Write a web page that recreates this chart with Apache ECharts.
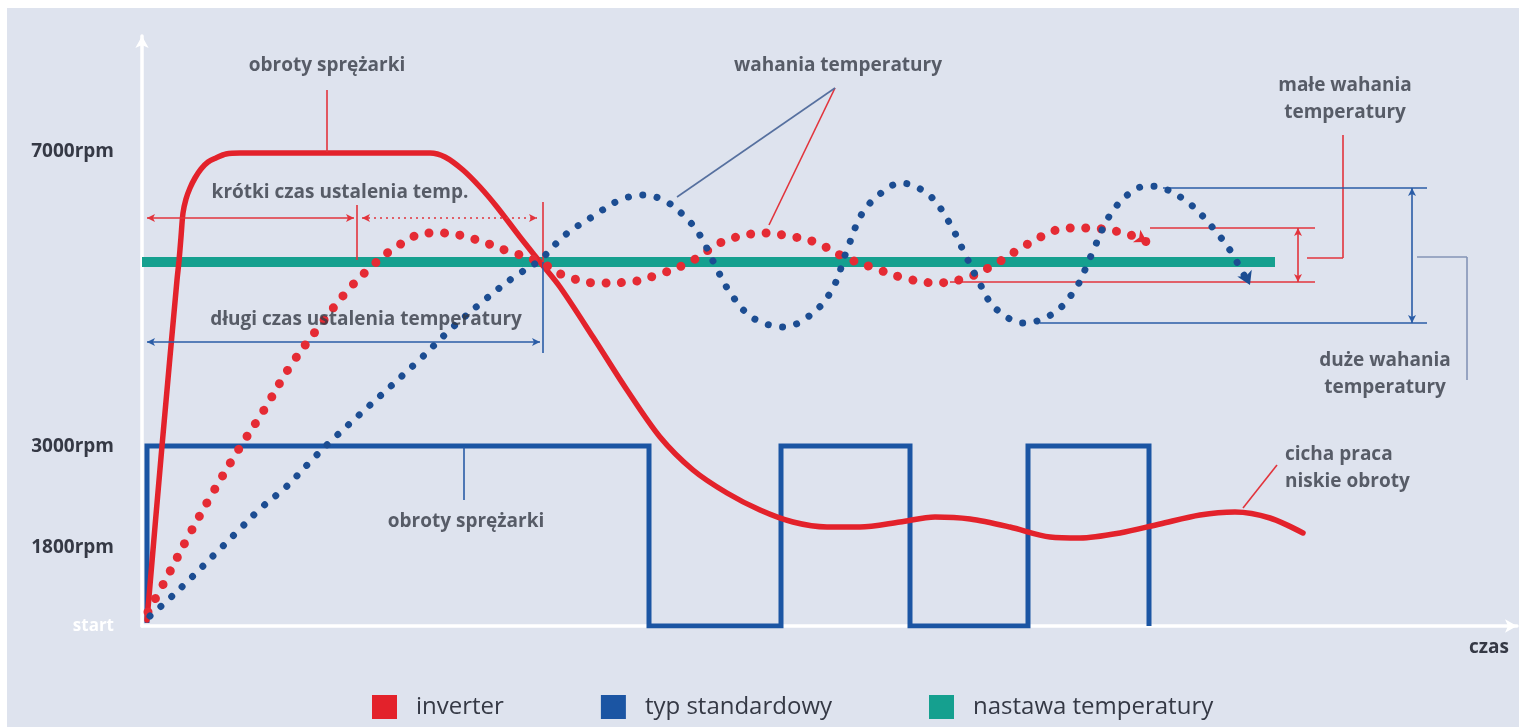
<!DOCTYPE html>
<html>
<head>
<meta charset="utf-8">
<title>Inverter vs standard compressor</title>
<script src="https://cdn.jsdelivr.net/npm/echarts@6/dist/echarts.min.js"></script>
<style>
  html, body { margin: 0; padding: 0; background: #ffffff; }
  #chart { position: absolute; left: 7px; top: 8px; width: 1512px; height: 719px; }
</style>
</head>
<body>
<div id="chart"></div>
<script>
// x: time from start, y: schematic height above the time axis (same scale for speed and temperature)
const yTickValues = [0, 78, 179, 474];
const yTickLabels = ['start', '1800rpm', '3000rpm', '7000rpm'];
const xTickValues = [1347];
const xTickLabels = ['czas'];

const legendNames = ['inverter', 'typ standardowy', 'nastawa temperatury'];

// temperature set point
const setpointTemp = [[0, 364], [1133, 364]];

// compressor speed, inverter unit
const inverterSpeed = [
  [5, 6], [20, 180], [35, 346], [37, 365], [39, 389], [41, 413], [44, 427], [48, 438],
  [53, 448], [59, 457], [66, 464], [74, 468], [84, 472], [98, 473], [188, 473],
  [288, 473], [303, 469], [321, 456], [338, 439], [355, 419], [378, 389], [398, 364],
  [418, 339], [451, 289], [485, 236], [518, 189], [551, 156], [585, 133], [618, 116],
  [651, 104], [685, 99], [718, 99], [758, 104], [793, 109], [828, 107], [868, 99],
  [908, 89], [938, 88], [978, 93], [1018, 102], [1058, 111], [1093, 114], [1128, 108],
  [1161, 93]
];

// compressor speed, on/off unit
const standardSpeed = [
  [5, 3], [5, 180], [507, 180], [507, 0], [639, 0], [639, 180], [768, 180], [768, 0],
  [886, 0], [886, 180], [1007, 180], [1007, 0]
];

// room temperature, inverter unit
const inverterTemp = [
  [6, 14], [24, 47], [46, 89], [70, 132], [95, 174], [122, 216], [147, 258], [176, 298],
  [206, 336], [229, 359], [254, 379], [285, 393], [301, 393], [332, 387], [363, 376],
  [398, 364], [421, 351], [455, 343], [488, 344], [518, 352], [548, 364], [580, 384],
  [609, 392], [625, 393], [641, 391], [673, 384], [702, 369], [732, 358], [762, 348],
  [794, 343], [827, 349], [855, 363], [884, 381], [914, 396], [930, 398], [946, 398],
  [978, 394], [994, 389], [1005, 384]
];

// room temperature, on/off unit
const standardTemp = [
  [8, 10], [26, 26], [50, 49], [73, 72], [95, 94], [119, 118], [144, 139], [167, 163],
  [190, 186], [274, 263], [310, 298], [345, 328], [372, 349], [398, 366], [423, 391],
  [450, 409], [478, 426], [501, 431], [525, 424], [548, 404], [559, 389], [573, 361],
  [589, 332], [611, 308], [642, 299], [671, 313], [691, 338], [705, 376], [721, 414],
  [743, 436], [759, 443], [787, 431], [807, 404], [821, 376], [836, 346], [853, 318],
  [882, 303], [912, 313], [934, 338], [948, 368], [968, 411], [989, 434], [1005, 440],
  [1021, 438], [1048, 422], [1071, 398], [1090, 373], [1098, 358], [1108, 341]
];

const RED = '#e3222b';
const RED_DOT = '#e52b34';
const BLUE = '#1b55a3';
const BLUE_DOT = '#1c4d92';
const TEAL = '#15a08f';
const TEXT = '#353945';
const BG = '#dee3ee';
const FONT = '"Open Sans", "Noto Sans", sans-serif';

// callout texts: [x, y, text, anchor]
const notes = [
  [185, 560, 'obroty sprężarki', 'c'],
  [198, 433, 'krótki czas ustalenia temp.', 'c'],
  [224, 306, 'długi czas ustalenia temperatury', 'c'],
  [696, 560, 'wahania temperatury', 'c'],
  [1203, 527, 'małe wahania\ntemperatury', 'c'],
  [1243, 252, 'duże wahania\ntemperatury', 'c'],
  [324, 104, 'obroty sprężarki', 'c'],
  [1143, 158, 'cicha praca\nniskie obroty', 'l']
];

// callout lines: [x1, y1, x2, y2, colour key, kind]
const callouts = [
  [5, 408, 212, 408, 'red', 'arrow'],
  [215, 421, 215, 366, 'red', 'line'],
  [220, 408, 395, 408, 'red', 'dotted'],
  [401, 424, 401, 364, 'red', 'line'],
  [401, 364, 401, 273, 'blue', 'line'],
  [5, 284, 398, 284, 'blue', 'arrow'],
  [185, 536, 185, 474, 'red', 'line'],
  [693, 538, 627, 401, 'red', 'line'],
  [693, 538, 535, 429, 'slate', 'line'],
  [322, 179, 322, 126, 'blue', 'line'],
  [1008, 398, 1173, 398, 'red', 'line'],
  [808, 344, 1173, 344, 'red', 'line'],
  [1156, 398, 1156, 344, 'red', 'arrow'],
  [1201, 491, 1201, 368, 'red', 'line'],
  [1201, 368, 1165, 368, 'red', 'line'],
  [1101, 118, 1135, 161, 'red', 'line'],
  [1021, 438, 1285, 438, 'blue', 'line'],
  [898, 303, 1285, 303, 'blue', 'line'],
  [1270, 438, 1270, 303, 'blue', 'arrow'],
  [1275, 369, 1325, 369, 'grey', 'line'],
  [1325, 369, 1325, 246, 'grey', 'line']
];

const calloutColours = { red: '#e2343c', blue: '#2a5ca6', slate: '#56709f', grey: '#8494b6' };

const chart = echarts.init(document.getElementById('chart'), null, { renderer: 'canvas' });

const markLineData = callouts.map(([x1, y1, x2, y2, c, kind]) => {
  const arrows = kind === 'arrow' || kind === 'dotted';
  return [
    { coord: [x1, y1], symbol: arrows ? 'arrow' : 'none', symbolSize: [6, 8],
      lineStyle: { color: calloutColours[c], width: 1.6, type: kind === 'dotted' ? [2, 4] : 'solid' } },
    { coord: [x2, y2], symbol: arrows ? 'arrow' : 'none', symbolSize: [6, 8] }
  ];
});

const noteData = notes.map(([x, y, text, anchor]) => ({
  name: text,
  value: [x, y],
  label: anchor === 'l'
    ? { position: 'right', distance: 0, align: 'left' }
    : { position: 'inside', align: 'center' }
}));

function withEndArrow(points, rotate, size) {
  return points.map((p, i) => i === points.length - 1
    ? { value: p, symbol: 'arrow', symbolSize: size, symbolRotate: rotate }
    : { value: p, symbol: 'none' });
}

chart.setOption({
  backgroundColor: BG,
  animation: false,
  grid: { left: 135, right: 2, top: 28, bottom: 101, containLabel: false, outerBoundsMode: 'none' },
  xAxis: {
    type: 'value', min: 0, max: 1375,
    splitLine: { show: false },
    axisTick: { show: false },
    axisLine: { show: true, lineStyle: { color: '#ffffff', width: 3.5 }, symbol: ['none', 'arrow'], symbolSize: [10, 12] },
    axisLabel: {
      customValues: xTickValues,
      formatter: v => xTickLabels[xTickValues.indexOf(v)] || '',
      margin: 12, fontSize: 19, fontWeight: 'bold', color: TEXT, fontFamily: FONT
    }
  },
  yAxis: {
    type: 'value', min: 0, max: 590,
    splitLine: { show: false },
    axisTick: { show: false },
    axisLine: { show: true, lineStyle: { color: '#ffffff', width: 3.5 }, symbol: ['none', 'arrow'], symbolSize: [10, 12] },
    axisLabel: {
      customValues: yTickValues,
      formatter: v => {
        const i = yTickValues.indexOf(v);
        return i === 0 ? '{w|' + yTickLabels[i] + '}' : (yTickLabels[i] || '');
      },
      margin: 28, fontSize: 19, fontWeight: 'bold', color: TEXT, fontFamily: FONT,
      rich: { w: { color: '#ffffff', fontSize: 17, fontWeight: 'bold', fontFamily: FONT } }
    }
  },
  legend: {
    data: legendNames,
    left: 360, top: 682,
    icon: 'rect', itemWidth: 25, itemHeight: 24, itemGap: 97,
    itemStyle: { borderWidth: 0 },
    textStyle: { fontSize: 24, fontWeight: 500, color: TEXT, fontFamily: FONT, padding: [0, 0, 0, 14] },
    selectedMode: false
  },
  series: [
    {
      name: 'nastawa temperatury', type: 'line', data: setpointTemp,
      symbol: 'none', z: 1,
      itemStyle: { color: TEAL },
      lineStyle: { color: TEAL, width: 10, cap: 'butt' }
    },
    {
      name: 'typ standardowy', type: 'line', data: standardSpeed,
      symbol: 'none', z: 3,
      itemStyle: { color: BLUE },
      lineStyle: { color: BLUE, width: 5, join: 'miter' }
    },
    {
      name: 'inverter', type: 'line', data: inverterSpeed,
      symbol: 'none', smooth: 0.3, z: 4,
      itemStyle: { color: RED },
      lineStyle: { color: RED, width: 5.5, cap: 'round' }
    },
    {
      name: 'inverter', type: 'line', data: withEndArrow(inverterTemp, -120, [11, 12]),
      smooth: 0.35, z: 5, showAllSymbol: true,
      itemStyle: { color: RED_DOT },
      lineStyle: { color: RED_DOT, width: 9, type: [0.01, 15.5], cap: 'round' }
    },
    {
      name: 'typ standardowy', type: 'line', data: withEndArrow(standardTemp, -155, [12, 13]),
      smooth: 0.35, z: 5, showAllSymbol: true,
      itemStyle: { color: BLUE_DOT },
      lineStyle: { color: BLUE_DOT, width: 7, type: [0.01, 14.5], cap: 'round' }
    },
    {
      name: 'callouts', type: 'line', data: [], silent: true, z: 6,
      markLine: { silent: true, animation: false, label: { show: false }, data: markLineData }
    },
    {
      name: 'notes', type: 'scatter', data: noteData, silent: true, z: 7,
      symbolSize: 0,
      label: {
        show: true, formatter: '{b}', fontSize: 19, fontWeight: 'bold', lineHeight: 27,
        color: TEXT, fontFamily: FONT
      }
    }
  ]
});
</script>
</body>
</html>
